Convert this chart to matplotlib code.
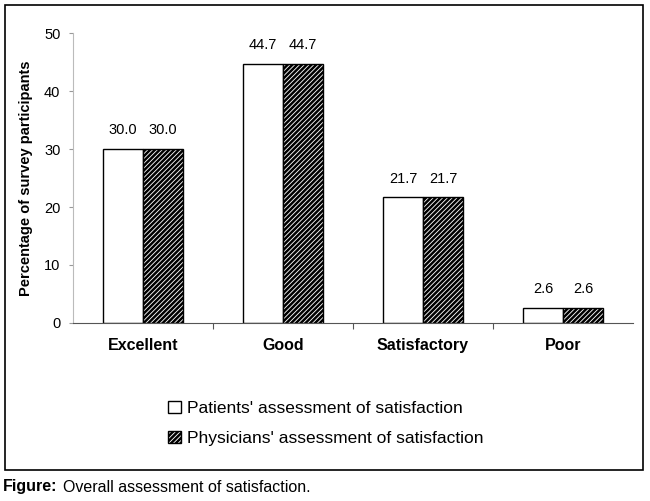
import numpy as np
import matplotlib
matplotlib.use("Agg")
import matplotlib.pyplot as plt
from matplotlib.patches import Rectangle

categories = ["Excellent", "Good", "Satisfactory", "Poor"]
patients = [30.0, 44.7, 21.7, 2.6]
physicians = [30.0, 44.7, 21.7, 2.6]
series_names = ["Patients' assessment of satisfaction",
                "Physicians' assessment of satisfaction"]

plt.rcParams['font.family'] = ['Liberation Sans', 'DejaVu Sans']
plt.rcParams['hatch.linewidth'] = 1.8

fig = plt.figure(figsize=(6.5, 5.01), dpi=100)
ax = fig.add_axes([0.1123, 0.3553, 0.8615, 0.5788])

x = np.arange(len(categories))
w = 0.286
b1 = ax.bar(x - w / 2, patients, w, color="white", edgecolor="black", linewidth=1.0)
b2 = ax.bar(x + w / 2, physicians, w, color="white", edgecolor="black",
            hatch="///////", linewidth=1.0)

for bars, vals in [(b1, patients), (b2, physicians)]:
    for r, v in zip(bars, vals):
        ax.text(r.get_x() + r.get_width() / 2, v + 2.0, f"{v:.1f}",
                ha="center", va="bottom", fontsize=10.5)

ax.set_xlim(-0.5, 3.5)
ax.set_ylim(0, 50)
ax.set_yticks(range(0, 51, 10))
ax.set_xticks([0.5, 1.5, 2.5])
ax.set_xticklabels([])
ax.tick_params(axis="x", length=4, color="#555555")
ax.tick_params(axis="y", length=3, color="#999999", labelsize=10.5, pad=6)
for i, c in enumerate(categories):
    ax.text(i, -2.6, c, ha="center", va="top", fontsize=11.5, fontweight="bold")

ax.spines["top"].set_visible(False)
ax.spines["right"].set_visible(False)
ax.spines["left"].set_color("#bbbbbb")
ax.spines["bottom"].set_color("#555555")

ax.set_ylabel("Percentage of survey participants", fontsize=10.5, fontweight="bold",
              labelpad=8)

fig.legend([b1[0], b2[0]], series_names, loc="upper left",
           bbox_to_anchor=(0.235, 0.231), frameon=False, fontsize=12.5,
           handlelength=0.7, handleheight=0.7, handletextpad=0.4,
           labelspacing=0.85)

# outer frame
fig.patches.append(Rectangle((5 / 650, 1 - 470 / 501), 638 / 650, 465 / 501,
                             transform=fig.transFigure, fill=False,
                             edgecolor="black", linewidth=1.2))

fig.text(0.005, 1 - 487 / 501, "Figure:", fontsize=11.5, fontweight="bold",
         va="center")
fig.text(63 / 650, 1 - 487 / 501, "Overall assessment of satisfaction.", fontsize=11.5,
         va="center")

fig.savefig("out.png", dpi=100)
